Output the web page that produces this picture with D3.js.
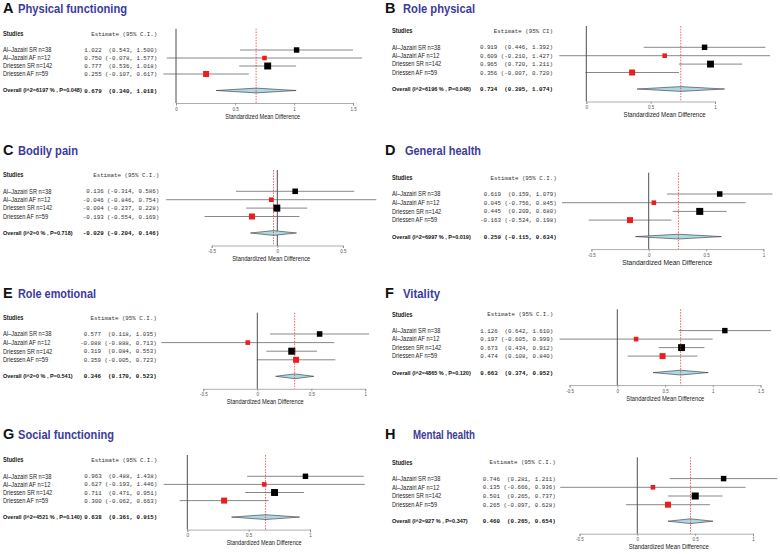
<!DOCTYPE html>
<html>
<head>
<meta charset="utf-8">
<script src="https://cdn.jsdelivr.net/npm/d3@7"></script>
<style>
  body { margin: 0; background: #fff; }
  svg text { white-space: pre; }
</style>
</head>
<body>
<svg id="chart" width="780" height="554"></svg>
<script>
// ---- data ----
var studies = ["Al\u2013Jazairi SR n=38", "Al\u2013Jazairi AF n=12", "Driessen SR n=142", "Driessen AF n=59"];
var studyGroup = ["SR", "AF", "SR", "AF"];

var panelLetters = ["A", "B", "C", "D", "E", "F", "G", "H"];
var panelTitles = ["Physical functioning", "Role physical", "Bodily pain", "General health",
                   "Role emotional", "Vitality", "Social functioning", "Mental health"];
var headers = ["Estimate (95% C.I.)", "Estimate (95% CI)", "Estimate (95% C.I.)", "Estimate (95% C.I.)",
               "Estimate (95% C.I.)", "Estimate (95% C.I.)", "Estimate (95% C.I.)", "Estimate (95% C.I.)"];

var studyEst = [
  [1.022, 0.750, 0.777, 0.255],
  [0.919, 0.609, 0.965, 0.356],
  [0.136, -0.046, -0.004, -0.193],
  [0.619, 0.045, 0.445, -0.163],
  [0.577, -0.088, 0.319, 0.359],
  [1.126, 0.197, 0.673, 0.474],
  [0.963, 0.627, 0.711, 0.300],
  [0.746, 0.135, 0.501, 0.265]
];
var studyLow = [
  [0.543, -0.078, 0.536, -0.107],
  [0.446, -0.210, 0.720, -0.007],
  [-0.314, -0.846, -0.237, -0.554],
  [0.159, -0.756, 0.209, -0.524],
  [0.118, -0.888, 0.084, -0.005],
  [0.642, -0.605, 0.434, 0.108],
  [0.488, -0.193, 0.471, -0.062],
  [0.281, -0.666, 0.265, -0.097]
];
var studyHigh = [
  [1.500, 1.577, 1.018, 0.617],
  [1.392, 1.427, 1.211, 0.720],
  [0.586, 0.754, 0.228, 0.169],
  [1.079, 0.845, 0.680, 0.198],
  [1.035, 0.713, 0.553, 0.723],
  [1.610, 0.999, 0.912, 0.840],
  [1.438, 1.446, 0.951, 0.663],
  [1.211, 0.936, 0.737, 0.628]
];

var overallLabels = ["Overall (I^2=6197 % , P=0.048)", "Overall (I^2=6196 % , P=0.048)",
                     "Overall (I^2=0 % , P=0.718)", "Overall (I^2=6997 % , P=0.019)",
                     "Overall (I^2=0 % , P=0.541)", "Overall (I^2=4865 % , P=0.120)",
                     "Overall (I^2=4521 % , P=0.140)", "Overall (I^2=927 % , P=0.347)"];
var overallEst  = [0.679, 0.734, -0.029, 0.259, 0.346, 0.663, 0.638, 0.460];
var overallLow  = [0.340, 0.395, -0.204, -0.115, 0.170, 0.374, 0.361, 0.265];
var overallHigh = [1.018, 1.074, 0.146, 0.634, 0.523, 0.952, 0.915, 0.654];

var axisTicks = [
  [0, 0.5, 1, 1.5],
  [0, 0.5, 1],
  [-0.5, 0, 0.5],
  [-0.5, 0, 0.5, 1],
  [-0.5, 0, 0.5, 1],
  [-0.5, 0, 0.5, 1, 1.5],
  [0, 0.5, 1],
  [-0.5, 0, 0.5, 1]
];

// ---- layout of each panel (pixels) ----
var panelX0   = [0, 390, 0, 390, 0, 390, 0, 390];
var titleY    = [12.7, 12.7, 155, 155.3, 298.3, 298, 439.3, 439];
var titleX    = [18, 403, 18, 405, 18, 403, 18, 413];
var titleW    = [109, 72, 60, 76, 78, 37, 96, 62];
var studiesY  = [33.7, 31, 175, 177.7, 317.7, 314.3, 460, 462.3];
var rowStep   = [8.0, 8.4, 8.4, 8.7, 8.6, 8.5, 8.1, 8.7];
var numRight  = [157.3, 553, 159.3, 556.7, 156.7, 553.3, 157.3, 555.7];
var zeroPx    = [176, 586.3, 277.3, 648.7, 257.3, 617.3, 187.3, 637.3];
var pxPerUnit = [118, 128.7, 131.3, 114.7, 108, 95.5, 122.7, 115.7];
var xlabW     = [75, 82, 78, 90, 77, 78, 75, 80];

var blue = "#3b3b9e";
var red = "#ee1c1c";
var sans = "'Liberation Sans', Arial, Helvetica, sans-serif";
var mono = "'Liberation Mono', 'Courier New', monospace";

var svg = d3.select("#chart");

function ciText(e, l, h) {
  return e.toFixed(3) + (l >= 0 ? "  (" : " (") + l.toFixed(3) + ", " + h.toFixed(3) + ")";
}

panelLetters.forEach(function(letter, i) {
  var x0 = panelX0[i];
  var sy = studiesY[i];
  var rowY = function(j) { return sy + 16.3 + j * rowStep[i]; };
  var ovY = rowY(3) + 16.5;
  var vTop = sy - 5;
  var axisY = ovY + 12.5;
  var ticks = axisTicks[i];
  var t0 = ticks[0], t1 = ticks[ticks.length - 1];

  var x = d3.scaleLinear()
    .domain([t0, t1])
    .range([zeroPx[i] + t0 * pxPerUnit[i], zeroPx[i] + t1 * pxPerUnit[i]]);

  var g = svg.append("g");

  // panel letter + title
  g.append("text")
    .attr("x", x0 === 0 ? 3 : 385).attr("y", titleY[i])
    .attr("font-family", sans).attr("font-weight", "bold").attr("font-size", 14.5)
    .attr("fill", "#111").text(letter);
  g.append("text")
    .attr("x", titleX[i]).attr("y", titleY[i])
    .attr("font-family", sans).attr("font-weight", "bold").attr("font-size", 13)
    .attr("textLength", titleW[i]).attr("lengthAdjust", "spacingAndGlyphs")
    .attr("fill", blue).text(panelTitles[i]);

  // left labels, slightly condensed
  var lx = x0 + (x0 === 0 ? 3 : 2);
  var lg = g.append("g").attr("transform", "translate(" + lx + ",0) scale(0.86,1)")
    .attr("font-family", sans).attr("font-size", 6.6).attr("fill", "#222");
  lg.append("text").attr("x", 0).attr("y", sy).attr("dy", "0.35em")
    .attr("font-weight", "bold").text("Studies");
  lg.selectAll("text.st").data(studies).enter().append("text")
    .attr("class", "st")
    .attr("x", 0).attr("y", function(d, j) { return rowY(j); }).attr("dy", "0.35em")
    .text(function(d) { return d; });
  g.append("text").attr("x", lx).attr("y", ovY).attr("dy", "0.35em")
    .attr("font-family", sans).attr("font-weight", "bold").attr("font-size", 5.5)
    .attr("fill", "#111")
    .text(overallLabels[i]);

  // estimate column
  var ng = g.append("g").attr("font-family", mono).attr("font-size", 5.8)
    .attr("fill", "#333").attr("text-anchor", "end");
  ng.append("text").attr("x", numRight[i]).attr("y", sy).attr("dy", "0.35em")
    .attr("xml:space", "preserve").text(headers[i]);
  ng.selectAll("text.ci").data(studies).enter().append("text")
    .attr("class", "ci").attr("xml:space", "preserve")
    .attr("x", numRight[i]).attr("y", function(d, j) { return rowY(j); }).attr("dy", "0.35em")
    .text(function(d, j) { return ciText(studyEst[i][j], studyLow[i][j], studyHigh[i][j]); });
  ng.append("text").attr("xml:space", "preserve")
    .attr("x", numRight[i]).attr("y", ovY).attr("dy", "0.35em")
    .attr("font-weight", "bold").attr("fill", "#111")
    .text(ciText(overallEst[i], overallLow[i], overallHigh[i]));

  // x axis
  var axis = d3.axisBottom(x).tickValues(ticks).tickSize(2.5).tickPadding(2)
    .tickFormat(function(d) { return String(d); });
  var ag = g.append("g").attr("transform", "translate(0," + axisY + ")").call(axis);
  ag.select(".domain").attr("stroke", "#777").attr("stroke-width", 0.6);
  ag.selectAll(".tick line").attr("stroke", "#777").attr("stroke-width", 0.6);
  ag.selectAll(".tick text").attr("font-size", 4.5).attr("fill", "#555")
    .attr("font-family", sans);

  var minLo = d3.min(studyLow[i]), maxHi = d3.max(studyHigh[i]);
  g.append("text")
    .attr("x", (x(minLo) + x(maxHi)) / 2).attr("y", axisY + 15.5)
    .attr("text-anchor", "middle").attr("font-family", sans).attr("font-size", 6.8)
    .attr("textLength", xlabW[i]).attr("lengthAdjust", "spacingAndGlyphs")
    .attr("fill", "#222").text("Standardized Mean Difference");

  // zero line
  g.append("line")
    .attr("x1", x(0)).attr("x2", x(0)).attr("y1", vTop).attr("y2", axisY)
    .attr("stroke", "#222").attr("stroke-width", 0.8);

  // CI lines
  g.selectAll("line.ci").data(studies).enter().append("line")
    .attr("class", "ci")
    .attr("x1", function(d, j) { return x(studyLow[i][j]); })
    .attr("x2", function(d, j) { return x(studyHigh[i][j]); })
    .attr("y1", function(d, j) { return rowY(j); })
    .attr("y2", function(d, j) { return rowY(j); })
    .attr("stroke", "#555").attr("stroke-width", 0.7);

  // boxes, sized from the precision of each study
  g.selectAll("rect.box").data(studies).enter().append("rect")
    .attr("class", "box")
    .each(function(d, j) {
      var se = (studyHigh[i][j] - studyLow[i][j]) / 3.92;
      var s = 1.8 + 1.8 * Math.sqrt(1 / se);
      d3.select(this)
        .attr("x", x(studyEst[i][j]) - s / 2).attr("y", rowY(j) - s / 2)
        .attr("width", s).attr("height", s)
        .attr("fill", studyGroup[j] === "SR" ? "#000" : red);
    });

  // summary diamond
  var dh = 2.4;
  g.append("polygon")
    .attr("points", [
      [x(overallLow[i]), ovY], [x(overallEst[i]), ovY - dh],
      [x(overallHigh[i]), ovY], [x(overallEst[i]), ovY + dh]
    ].map(function(p) { return p.join(","); }).join(" "))
    .attr("fill", "#add8e6").attr("stroke", "#333").attr("stroke-width", 0.6);

  // dotted line at the pooled estimate
  g.append("line")
    .attr("x1", x(overallEst[i])).attr("x2", x(overallEst[i]))
    .attr("y1", vTop).attr("y2", axisY)
    .attr("stroke", red).attr("stroke-width", 0.7).attr("stroke-dasharray", "1.5,1.3");
});
</script>
</body>
</html>
